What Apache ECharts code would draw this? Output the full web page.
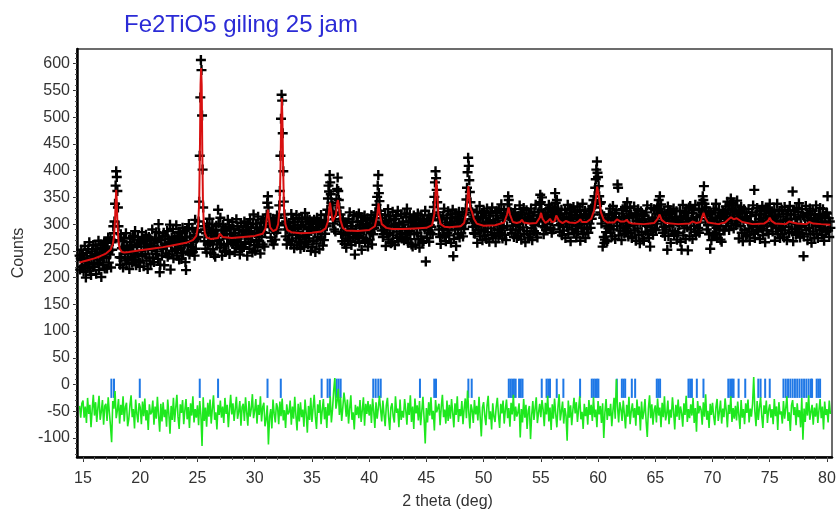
<!DOCTYPE html>
<html>
<head>
<meta charset="utf-8">
<script src="https://cdn.jsdelivr.net/npm/echarts@6/dist/echarts.min.js"></script>
<style>
  html, body { margin: 0; padding: 0; background: #fff; }
  #chart { width: 840px; height: 516px; }
</style>
</head>
<body>
<div id="chart"></div>
<script>
// Rietveld refinement plot: observed counts (+), calculated profile, Bragg reflections and difference curve
const chartTitle = 'Fe2TiO5 giling 25 jam';
const xAxisTitle = '2 theta (deg)';
const yAxisTitle = 'Counts';
const xTickValues = [15, 20, 25, 30, 35, 40, 45, 50, 55, 60, 65, 70, 75, 80];
const yTickValues = [-100, -50, 0, 50, 100, 150, 200, 250, 300, 350, 400, 450, 500, 550, 600];

// Observed scan: 2theta from 14.70 deg in 0.05 deg steps
const scanStart = 14.7;
const scanStep = 0.05;
const obsA = [
  241,215,236,252,220,233,
  243,211,236,259,223,200,246,233,217,253,228,266,213,240,205,235,249,220,261,225,
  221,244,260,207,239,253,227,269,214,247,232,262,201,242,255,223,237,265,217,250,
  265,238,217,254,275,228,251,243,272,219,266,252,268,296,283,305,338,372,399,388,
  362,331,296,270,238,224,281,237,255,268,219,258,273,244,232,283,226,260,251,235,
  253,216,266,274,239,257,228,278,248,233,271,287,242,223,261,245,276,230,264,220,
  228,265,250,285,240,272,221,258,268,244,280,232,262,216,255,276,237,259,225,270,
  252,290,237,264,229,259,273,244,285,249,267,235,300,283,210,224,270,257,241,277,
  254,284,223,264,277,245,259,287,239,272,243,266,299,215,261,275,249,291,236,269,
  275,252,265,298,241,278,254,285,234,267,283,256,235,272,293,246,269,260,287,229,
  214,275,290,261,249,300,243,277,268,252,257,293,248,267,280,241,308,254,272,285,
  289,276,305,342,428,537,607,588,503,402,331,296,268,290,254,283,247,301,262,279,
  294,310,265,246,284,268,299,253,287,243,276,239,289,297,262,280,327,301,271,256,
  312,263,288,241,278,299,260,282,248,293,251,288,273,308,263,295,244,281,291,267,
  268,304,263,292,278,248,283,256,309,271,296,260,276,289,243,266,302,279,254,286,
  290,257,305,277,263,295,282,241,302,272,287,254,309,267,293,279,247,300,318,261
];
const obsB = [
  283,250,301,270,294,257,314,281,268,291,245,303,276,285,262,309,295,258,284,311,
  302,318,340,352,331,309,296,312,275,301,268,294,310,262,288,305,271,299,284,316,
  290,312,302,335,362,428,497,542,531,470,399,342,318,298,277,305,262,290,271,301,
  271,287,296,262,319,268,280,309,294,255,304,291,273,317,260,299,286,267,312,276,
  254,298,264,310,279,295,257,276,321,305,267,282,312,262,291,273,308,300,250,287,
  302,257,291,269,308,287,248,294,264,312,276,300,290,253,304,272,317,282,297,260,
  295,270,308,282,301,318,296,327,348,372,361,392,378,356,340,322,335,301,318,290,
  309,286,322,347,366,387,362,345,331,305,318,282,299,268,310,284,296,263,303,279,
  256,302,289,273,309,284,322,269,296,261,291,305,276,317,281,243,267,292,315,279,
  304,278,320,265,298,283,313,252,293,306,274,288,316,268,301,272,295,311,258,290,
  296,271,308,284,317,262,299,281,311,293,305,322,298,336,351,372,392,358,343,325,
  318,302,288,311,276,281,299,290,317,259,305,282,295,328,271,308,284,315,264,297,
  266,323,279,297,310,261,300,315,286,274,325,268,302,293,277,282,318,273,292,305,
  299,270,320,290,275,313,329,284,265,303,287,318,272,306,262,295,258,308,316,281,
  312,261,298,308,284,320,272,302,256,295,316,277,299,265,310,268,305,290,325,230
];
const obsC = [
  301,274,309,288,316,267,298,284,312,295,307,281,318,332,351,378,399,386,364,341,
  322,308,290,315,276,263,309,296,280,316,291,329,276,303,268,298,312,283,324,288,
  279,302,318,265,297,311,327,240,272,305,290,320,259,300,313,281,295,323,275,308,
  310,283,301,322,277,306,291,318,302,329,346,368,397,424,409,382,360,341,327,309,
  322,295,314,283,306,282,305,296,323,265,311,288,301,334,277,314,290,321,270,303,
  288,324,279,298,311,272,329,285,303,316,267,306,321,292,280,331,274,308,299,283,
  303,266,316,324,289,307,278,328,298,283,321,337,292,273,311,295,326,280,314,270,
  318,296,337,352,345,328,311,290,322,283,308,297,319,276,305,328,288,312,274,301,
  278,315,300,335,290,322,271,308,318,294,330,282,312,266,305,326,287,309,275,320,
  313,281,306,329,293,270,316,303,287,323,298,336,283,310,275,305,322,309,338,355,
  341,327,350,296,318,281,307,294,322,289,311,300,328,315,336,309,331,293,318,284,
  306,325,290,314,331,358,340,322,345,316,329,298,312,285,319,301,327,279,308,295,
  288,311,327,274,306,320,294,336,281,314,299,329,268,309,322,290,304,332,284,317,
  323,296,275,312,333,286,309,300,327,269,315,292,305,338,281,318,294,325,274,307,
  318,291,312,284,325,301,316,293,329,310,334,318,345,331,352,368,384,402,417,396
];
const obsD = [
  388,371,352,338,322,341,301,318,258,312,276,265,271,309,285,296,268,311,292,318,
  293,329,284,303,316,277,334,290,308,321,272,311,326,297,374,368,279,313,304,288,
  307,270,320,328,293,311,282,332,302,287,325,341,296,277,315,299,330,284,318,274,
  276,313,298,333,288,320,269,306,316,292,328,280,310,264,303,324,285,307,273,318,
  269,315,302,286,322,297,335,282,309,274,304,258,289,330,294,312,280,305,328,292,
  312,289,326,301,334,318,345,329,352,322,337,306,319,284,311,295,323,278,306,290,
  317,252,333,278,311,296,326,265,306,319,287,301,329,281,314,285,308,324,271,303,
  284,307,298,325,267,313,252,303,336,279,316,292,323,272,305,321,294,251,310,331,
  277,334,290,308,321,272,311,326,297,285,336,279,313,304,288,293,329,284,303,316,
  318,340,327,352,345,371,338,322,309,331,290,315,298,324,281,307,254,319,270,305,
  308,279,329,299,284,322,338,293,274,312,296,327,281,315,271,304,267,317,325,290,
  321,288,310,333,296,318,342,305,327,289,336,314,348,301,329,311,340,292,324,307,
  335,298,319,344,309,324,273,310,320,296,332,284,314,268,307,328,289,311,277,322,
  312,280,305,328,292,269,315,302,286,322,297,335,282,364,274,304,318,289,330,294,
  286,309,325,272,304,318,292,334,279,312,297,327,266,307,320,288,302,330,282,315,
  338,322,311,296,324,286,309,300,327,269,315,292,305,338,281,318,294,325,274,307,
  291,327,282,301,314,275,332,288,306,319,270,309,324,295,283,334,310,318,302,286,
  361,268,318,326,291,309,280,330,300,285,323,339,294,275,313,297,328,282,316,240,
  277,314,299,334,289,321,270,307,317,293,329,281,311,265,304,325,286,308,274,319,
  297,335,282,309,274,304,318,289,330,294,312,280,305,328,292,269,315,302,286,322,
  320,352,288,311,276,305,293
];

// Calculated profile vertices [2theta, counts]
const calcProfile = [
  [14.7,228],[15,230],[15.5,233],[16,236],[16.5,240],[17,245],[17.4,252],[17.6,262],[17.7,275],[17.8,310],
  [17.85,340],[17.9,364],[17.95,345],[18.0,305],[18.1,268],[18.2,254],[18.4,248],[18.6,247],[19,248],[20,251],
  [21,254],[22,257],[23,261],[24,265],[24.6,270],[24.9,278],[25.05,295],[25.15,340],[25.22,450],[25.27,560],
  [25.32,592],[25.37,560],[25.42,440],[25.48,340],[25.55,300],[25.65,283],[25.8,275],[26.2,272],[26.8,274],[26.95,282],
  [27.0,285],[27.05,282],[27.2,276],[28,274],[29,276],[30,278],[30.7,282],[30.95,292],[31.08,315],[31.15,327],
  [31.22,315],[31.35,294],[31.6,287],[31.9,290],[32.05,300],[32.18,330],[32.26,410],[32.32,500],[32.37,536],[32.42,500],
  [32.48,410],[32.56,330],[32.68,300],[32.85,289],[33.2,285],[34,283],[35,284],[35.8,286],[36.2,292],[36.4,305],
  [36.52,330],[36.58,340],[36.65,330],[36.8,305],[36.95,303],[37.1,318],[37.2,338],[37.27,345],[37.35,335],[37.5,307],
  [37.7,293],[38,288],[39,287],[40,289],[40.5,296],[40.7,315],[40.82,339],[40.92,320],[41.1,300],[41.5,293],
  [42,291],[43,291],[44,292],[45,293],[45.5,298],[45.7,320],[45.8,360],[45.87,383],[45.95,360],[46.05,318],
  [46.25,300],[46.6,295],[47,294],[48,296],[48.3,302],[48.5,322],[48.6,352],[48.67,371],[48.75,352],[48.85,330],
  [49.0,322],[49.15,310],[49.4,301],[50,297],[51,298],[51.8,303],[52.05,318],[52.18,331],[52.3,318],[52.55,304],
  [52.9,302],[53.2,304],[53.35,308],[53.5,303],[54,301],[54.6,302],[54.9,312],[55.02,321],[55.15,310],[55.4,302],
  [55.65,306],[55.8,310],[55.95,304],[56.2,305],[56.35,316],[56.45,318],[56.6,306],[56.9,302],[57.2,306],[57.32,309],
  [57.5,303],[58,302],[58.3,305],[58.45,309],[58.6,304],[59,304],[59.4,310],[59.65,325],[59.82,350],[59.92,370],
  [60.0,368],[60.1,348],[60.25,322],[60.5,308],[60.8,303],[61.4,303],[61.65,309],[61.8,310],[61.95,305],[62.3,305],
  [62.5,308],[62.7,303],[63,301],[64,300],[64.9,302],[65.2,310],[65.38,318],[65.55,308],[65.9,302],[67,300],
  [68,301],[68.25,305],[68.4,306],[68.6,302],[68.95,304],[69.1,314],[69.22,321],[69.35,312],[69.6,303],[70.5,300],
  [71.1,303],[71.4,309],[71.62,313],[71.85,309],[72.1,311],[72.25,309],[72.6,304],[73.5,300],[74.5,301],[74.85,306],
  [75.0,312],[75.15,306],[75.5,301],[76.4,300],[76.7,305],[76.85,308],[77.0,303],[77.4,301],[78.2,300],[78.45,304],
  [78.6,305],[78.8,301],[79.5,300],[80.3,299]
];

// Difference curve (observed - calculated, shifted), 2theta from 14.7 deg in 0.1 deg steps
const diffStart = 14.7;
const diffStep = 0.1;
const diffA = [
  -40,-62,-35,
  -30,-62,-41,-72,-25,-55,-38,-80,-47,-19,
  -58,-33,-70,-44,-21,-66,-50,-29,-75,-40,
  -36,-68,-24,-52,-77,-108,-31,-45,-12,-63,
  -49,-27,-73,-38,-57,-22,-69,-42,-34,-78,
  -65,-39,-20,-61,-46,-82,-28,-54,-71,-35,
  -43,-74,-32,-59,-26,-67,-48,-85,-37,-56,
  -52,-30,-75,-41,-64,-23,-58,-88,-36,-69,
  -33,-61,-47,-79,-28,-55,-92,-40,-66,-25,
  -70,-44,-19,-60,-83,-37,-53,-29,-74,-48,
  -27,-65,-42,-81,-35,-58,-22,-71,-46,-62,
  -39,-76,-31,-57,-115,-24,-68,-43,-79,-34,
  -60,-28,-73,-45,-20,-66,-52,-84,-38,-57,
  -30,-62,-41,-72,-25,-55,-38,-80,-47,-19,
  -56,-35,-68,-46,-23,-64,-51,-31,-77,-42,
  -36,-68,-24,-52,-77,-31,-60,-45,-18,-63,
  -49,-27,-73,-38,-57,-22,-69,-42,-34,-78,
  -65,-39,-112,-61,-46,-82,-28,-54,-71,-35,
  -43,-74,-32,-59,-26,-67,-48,-81,-37,-56,
  -52,-30,-75,-41,-64,-23,-58,-86,-36,-69,
  -33,-61,-47,-79,-28,-55,-90,-40,-66,-25,
  -70,-44,-19,-60,-83,-37,-53,-29,-74,-48,
  -27,-65,-42,-81,-35,-58,-22,-71,-46,-12,
  12,-45,-31,-8,-57,-24,-68,-43,-15,-34,
  -60,-28,-73,-45,-20,-66,-52,-84,-38,-57,
  -41,-63,-29,-70,-48,-24,-77,-36,-55,-31,
  -58,-37,-72,-26,-50,-81,-33,-64,-44,-21,
  -47,-69,-30,-56,-78,-39,-25,-61,-85,-43,
  -35,-59,-71,-22,-53,-45,-80,-28,-66,-49,
  -62,-27,-48,-75,-34,-57,-20,-70,-41,-83,
  -26,-54,-39,-67,-31,-76,-50,-23,-63,-110
];
const diffB = [
  -44,-71,-33,-58,-24,-65,-49,-86,-29,-52,
  -55,-36,-76,-42,-19,-61,-47,-73,-30,-68,
  -38,-64,-27,-53,-80,-35,-57,-22,-70,-46,
  -59,-31,-74,-45,-26,-63,-11,-50,-82,-37,
  -48,-72,-29,-56,-40,-67,-23,-61,-97,-43,
  -33,-58,-76,-39,-21,-65,-50,-84,-35,-60,
  -70,-42,-25,-57,-81,-36,-54,-30,-73,-47,
  -28,-63,-44,-79,-34,-56,-19,-68,-41,-60,
  -52,-35,-99,-46,-71,-27,-62,-38,-83,-49,
  -40,-102,-58,-31,-66,-45,-24,-72,-53,-36,
  -61,-29,-47,-78,-34,-56,-21,-69,-43,-85,
  -37,-64,-26,-55,-80,-42,-18,-67,-50,-32,
  -73,-44,-58,-105,-30,-62,-39,-76,-48,-25,
  -54,-33,-70,-46,-22,-65,-51,-83,-36,-59,
  -42,-75,-29,-57,-38,-68,-24,-61,-47,-80,
  -31,-56,-40,-72,-35,-100,-52,-27,-66,-44,
  -59,-36,-78,-49,-25,-64,10,-42,-71,-33,
  -46,-68,-30,-55,-82,-38,-60,-23,-74,-50,
  -35,-62,-44,-77,-28,-57,-41,-86,-32,-65,
  -52,-27,-69,-98,-45,-20,-63,-37,-75,-48,
  -39,-71,-26,-58,-43,-80,-34,-61,-22,-67,
  -55,-30,-74,-47,-62,-24,-50,-84,-38,-60,
  -28,-66,-41,-53,-79,-35,-57,-21,-70,-46,
  -63,-37,-58,-25,-72,-44,-88,-31,-54,-40,
  -47,-75,-33,-60,-18,-66,-49,-81,-36,-57,
  -34,-59,-76,-42,-27,-68,-51,-30,-73,-45,
  -61,-26,-49,-80,-38,-55,-22,-70,-44,-64,
  -40,-67,-32,-57,-83,-29,-62,-46,-74,-35,
  -53,-28,-71,-45,-60,-36,14,-50,-78,-31,
  -66,-43,-24,-58,-81,-39,-55,-30,-72,-48,
  -37,-62,-46,-74,-27,-59,-41,-85,-33,-56,
  -50,-73,-31,-64,-44,-22,-68,-52,-87,-39,
  -29,-57,-42,-76,-35,-61,-48,-80,-25,-103,
  -45,-70,-33,-58,-20,-66,-51,-38,-75,-43,
  -60,-35,-72,-48,-27,-63,-41,-84,-32,-57,
  -46,-71,-30,-55
];

// Bragg reflection positions (2theta, deg)
const braggPositions = [
  17.48, 17.71, 19.96, 25.20, 26.80, 31.12, 32.28, 35.85, 36.37, 36.57,
  37.16, 37.33, 37.51, 40.36, 40.57, 40.80, 41.01, 44.44, 45.69, 45.84,
  48.67, 48.96, 52.20, 52.35, 52.50, 52.65, 52.80, 53.10, 53.25, 53.40,
  55.08, 55.50, 55.65, 55.80, 56.39, 56.97, 58.43, 59.45, 59.60, 59.75,
  59.90, 60.03, 61.64, 62.08, 62.23, 62.37, 62.95, 63.24, 65.13, 65.27,
  65.42, 67.90, 68.05, 68.20, 68.63, 69.21, 71.38, 71.55, 71.70, 71.84,
  72.28, 72.86, 74.00, 74.20, 74.60, 75.00, 76.20, 76.40, 76.60, 76.80,
  77.00, 77.20, 77.40, 77.60, 77.80, 78.00, 78.20, 78.40, 78.60, 78.70,
  79.10, 79.25, 79.40
];

// ---- build series tables ----
const observed = obsA.concat(obsB, obsC, obsD).map((v, i) => [+(scanStart + i * scanStep).toFixed(2), v]);
const difference = diffA.concat(diffB).map((v, i) => [+(diffStart + i * diffStep).toFixed(1), v]);
const braggData = braggPositions.map(p => [p, 0]);

const xMinorTicks = [];
for (let t = 15; t <= 80; t += 1) xMinorTicks.push(t);
const yMinorTicks = [];
for (let t = -130; t <= 620; t += 10) yMinorTicks.push(t);

const FONT = 'Liberation Sans, Arial, sans-serif';
const X_MIN = 14.475, X_MAX = 80.44;
const Y_MIN = -135.5, Y_MAX = 627.5;
const TICK_TOP = 11, TICK_BOTTOM = -25;
// plus-sign marker with 2.4-unit arms in a 10x10 box
const crossPath = 'path://M3.8,0H6.2V3.8H10V6.2H6.2V10H3.8V6.2H0V3.8H3.8Z';

const chart = echarts.init(document.getElementById('chart'), null, { renderer: 'canvas' });

chart.setOption({
  animation: false,
  backgroundColor: '#ffffff',
  title: {
    text: chartTitle,
    left: 119,
    top: 8,
    textStyle: { color: '#2b2bd6', fontSize: 24, fontWeight: 'normal', fontFamily: FONT }
  },
  grid: {
    left: 77, top: 49, width: 755, height: 408,
    show: true, borderColor: '#3c3c3c', borderWidth: 1.5, backgroundColor: '#ffffff'
  },
  xAxis: [
    {
      type: 'value', min: X_MIN, max: X_MAX, position: 'bottom',
      axisLine: { show: true, onZero: false, lineStyle: { color: '#000', width: 2.5 } },
      axisTick: { show: true, customValues: xTickValues, length: 5, lineStyle: { color: '#333', width: 1 } },
      axisLabel: { customValues: xTickValues, fontSize: 16, color: '#333', margin: 14, fontFamily: FONT },
      splitLine: { show: false },
      name: xAxisTitle, nameLocation: 'middle', nameGap: 37,
      nameTextStyle: { fontSize: 16, color: '#333', fontFamily: FONT, padding: [0, 14, 0, 0] }
    },
    {
      type: 'value', min: X_MIN, max: X_MAX, position: 'bottom',
      axisLine: { show: false, onZero: false },
      axisTick: { show: true, customValues: xMinorTicks, length: 3, lineStyle: { color: '#555', width: 1 } },
      axisLabel: { show: false },
      splitLine: { show: false }
    }
  ],
  yAxis: [
    {
      type: 'value', min: Y_MIN, max: Y_MAX, position: 'left',
      axisLine: { show: true, onZero: false, lineStyle: { color: '#000', width: 2.5 } },
      axisTick: { show: true, customValues: yTickValues, length: 4, lineStyle: { color: '#333', width: 1 } },
      axisLabel: { customValues: yTickValues, fontSize: 16, color: '#333', margin: 7, fontFamily: FONT },
      splitLine: { show: false },
      name: yAxisTitle, nameLocation: 'middle', nameGap: 50,
      nameTextStyle: { fontSize: 16, color: '#333', fontFamily: FONT }
    },
    {
      type: 'value', min: Y_MIN, max: Y_MAX, position: 'left',
      axisLine: { show: false, onZero: false },
      axisTick: { show: true, customValues: yMinorTicks, length: 2, lineStyle: { color: '#555', width: 1 } },
      axisLabel: { show: false },
      splitLine: { show: false }
    }
  ],
  series: [
    {
      name: 'Observed', type: 'scatter', xAxisIndex: 0, yAxisIndex: 0,
      data: observed, symbol: crossPath, symbolSize: 10,
      itemStyle: { color: '#000', opacity: 1 }, silent: true, z: 2, large: false
    },
    {
      name: 'Calculated', type: 'line', xAxisIndex: 0, yAxisIndex: 0,
      data: calcProfile, showSymbol: false, smooth: false,
      lineStyle: { color: '#d81010', width: 2 }, silent: true, z: 3
    },
    {
      name: 'Bragg', type: 'custom', xAxisIndex: 0, yAxisIndex: 0,
      data: braggData, encode: { x: 0, y: 1 }, silent: true, z: 4,
      renderItem: function (params, api) {
        const x = api.value(0);
        const p1 = api.coord([x, TICK_TOP]);
        const p2 = api.coord([x, TICK_BOTTOM]);
        return {
          type: 'line',
          shape: { x1: p1[0], y1: p1[1], x2: p2[0], y2: p2[1] },
          style: { stroke: '#1f78e6', lineWidth: 2 }
        };
      }
    },
    {
      name: 'Difference', type: 'line', xAxisIndex: 0, yAxisIndex: 0,
      data: difference, showSymbol: false, smooth: false,
      lineStyle: { color: '#1ee81e', width: 1.6 }, silent: true, z: 5
    }
  ]
});
</script>
</body>
</html>
